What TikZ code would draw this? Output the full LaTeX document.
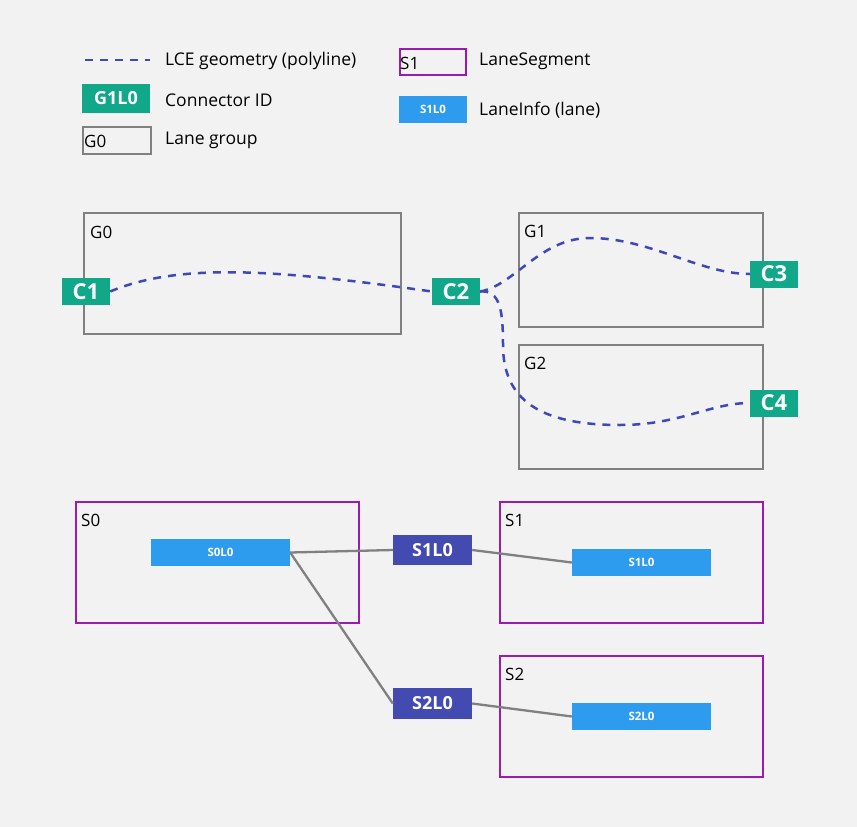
\documentclass[tikz,border=0pt]{standalone}
\usepackage{fontspec}
\setmainfont{Open Sans}
\definecolor{bgcol}{HTML}{F2F2F2}
\definecolor{conngreen}{HTML}{10A888}
\definecolor{groupgray}{HTML}{808080}
\definecolor{segpurple}{HTML}{9A1BB0}
\definecolor{laneblue}{HTML}{2E9CEE}
\definecolor{lconn}{HTML}{434BB1}
\definecolor{lcecol}{HTML}{3F48B8}
\tikzset{
  lanegroup/.style={draw=groupgray, line width=2.6pt, inner sep=0pt},
  laneseg/.style={draw=segpurple, line width=2.6pt, inner sep=0pt},
  connid/.style={fill=conngreen, text=white, font=\fontsize{22}{22}\selectfont\bfseries, inner sep=0pt},
  laneconn/.style={fill=lconn, text=white, font=\fontsize{18}{18}\selectfont\bfseries, inner sep=0pt},
  laneinfo/.style={fill=laneblue, text=white, font=\fontsize{11.5}{11.5}\selectfont\bfseries, inner sep=0pt},
  boxtitle/.style={anchor=west, inner sep=0pt, font=\fontsize{17}{17}\selectfont},
  legtext/.style={anchor=west, inner sep=0pt, font=\fontsize{17.5}{17.5}\selectfont},
  lce/.style={draw=lcecol, line width=2.5pt, dash pattern=on 8pt off 7pt},
  link/.style={draw=groupgray, line width=2.3pt}
}
\begin{document}
\begin{tikzpicture}[x=1pt, y=-1pt]
    \fill[bgcol] (0,0) rectangle (857,827);
    \useasboundingbox (0,0) rectangle (857,827);

    % legend
    \coordinate (lcea) at (85,60);
    \coordinate (lceb) at (150,60);
    \path[lce] (lcea) -- (lceb);
    \node[legtext] (lcetext) at (165,61) {LCE geometry (polyline)};
    \node[connid, minimum width=68pt, minimum height=29pt, font=\fontsize{18}{18}\selectfont\bfseries] (legconn) at (116,98.5) {G1L0};
    \node[legtext] (legconntext) at (165,100) {Connector ID};
    \node[lanegroup, minimum width=68pt, minimum height=27pt] (leggroup) at (117,140.5) {};
    \node[boxtitle] (leggrouptitle) at (84,141) {G0};
    \node[legtext] (leggrouptext) at (165,140) {Lane group};
    \node[laneseg, minimum width=66pt, minimum height=26pt] (legseg) at (433,62) {};
    \node[boxtitle] (legsegtitle) at (400,63) {S1};
    \node[legtext] (legsegtext) at (479,61) {LaneSegment};
    \node[laneinfo, minimum width=68pt, minimum height=27pt] (leglane) at (433,109.5) {S1L0};
    \node[legtext] (leglanetext) at (479,110) {LaneInfo (lane)};

    % lane groups
    \node[lanegroup, minimum width=317pt, minimum height=121pt] (g0) at (242.5,273.5) {};
    \node[boxtitle] (g0title) at (90,232) {G0};
    \node[lanegroup, minimum width=244pt, minimum height=114pt] (g1) at (641,270) {};
    \node[boxtitle] (g1title) at (524,231) {G1};
    \node[lanegroup, minimum width=244pt, minimum height=124pt] (g2) at (641,407) {};
    \node[boxtitle] (g2title) at (524,363) {G2};

    % connectors
    \node[connid, minimum width=48pt, minimum height=27pt] (c1) at (86,291.5) {C1};
    \node[connid, minimum width=48pt, minimum height=27pt] (c2) at (456,291.5) {C2};
    \node[connid, minimum width=48pt, minimum height=27pt] (c3) at (774,274) {C3};
    \node[connid, minimum width=48pt, minimum height=27pt] (c4) at (774,403) {C4};

    % lce geometry
    \path[lce] (c1.east) .. controls (180,262) and (280,270) .. (c2.west);
    \path[lce] (c2.east) .. controls (515,285) and (540,238) .. (590,238)
        .. controls (650,238) and (700,274) .. (c3.west);
    \path[lce] (c2.east) .. controls (500,290) and (503,310) .. (503,345)
        .. controls (503,400) and (540,425) .. (620,425)
        .. controls (680,425) and (710,403) .. (c4.west);

    % lane segments
    \node[laneseg, minimum width=283pt, minimum height=121pt] (s0) at (217.5,562.5) {};
    \node[boxtitle] (s0title) at (81,520) {S0};
    \node[laneseg, minimum width=263pt, minimum height=121pt] (s1) at (631.5,562.5) {};
    \node[boxtitle] (s1title) at (505,520) {S1};
    \node[laneseg, minimum width=263pt, minimum height=121pt] (s2) at (631.5,716.5) {};
    \node[boxtitle] (s2title) at (505,674) {S2};

    % lanes
    \node[laneinfo, minimum width=139pt, minimum height=27pt] (s0l0) at (220.5,552.5) {S0L0};
    \node[laneinfo, minimum width=139pt, minimum height=27pt] (s1l0) at (641.5,562.5) {S1L0};
    \node[laneinfo, minimum width=139pt, minimum height=27pt] (s2l0) at (641.5,716.5) {S2L0};
    \node[laneconn, minimum width=79pt, minimum height=30pt] (cs1l0) at (432.5,550) {S1L0};
    \node[laneconn, minimum width=79pt, minimum height=31pt] (cs2l0) at (432.5,703.5) {S2L0};

    \path[link] (s0l0.east) -- (cs1l0.west);
    \path[link] (s0l0.east) -- (cs2l0.west);
    \path[link] (cs1l0.east) -- (s1l0.west);
    \path[link] (cs2l0.east) -- (s2l0.west);
\end{tikzpicture}
\end{document}
